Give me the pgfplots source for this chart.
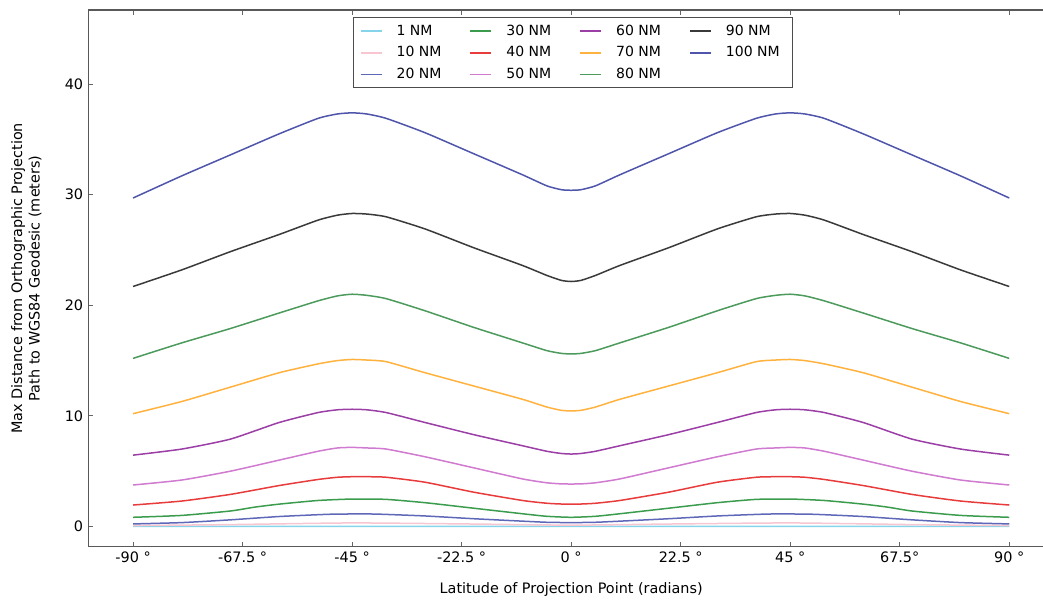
\documentclass[border=0pt]{standalone}
\usepackage{fontspec}
\setmainfont{DejaVu Sans}
\usepackage{pgfplots}
\pgfplotsset{compat=1.18}
\definecolor{c1}{HTML}{86D4EA}
\definecolor{c10}{HTML}{F7C6D0}
\definecolor{c20}{HTML}{5F68B8}
\definecolor{c30}{HTML}{3C9C4E}
\definecolor{c40}{HTML}{E83C3C}
\definecolor{c50}{HTML}{D07AD0}
\definecolor{c60}{HTML}{9B3EA6}
\definecolor{c70}{HTML}{FFB23E}
\definecolor{c80}{HTML}{4C9A5C}
\definecolor{c90}{HTML}{3A3A3A}
\definecolor{c100}{HTML}{4F55AA}
\newcommand{\legbox}[1]{\makebox[28pt][l]{#1}}
\begin{document}
\fontsize{7.2}{8.7}\selectfont
\begin{tikzpicture}
\begin{axis}[
  scale only axis,
  width=482.85pt, height=268.35pt,
  xmin=-99.2, xmax=99.2, ymin=-1.83, ymax=46.7,
  xtick={-90,-67.5,-45,-22.5,0,22.5,45,67.5,90},
  xticklabels={-90 °,-67.5 °,-45 °,-22.5 °,0 °,22.5 °,45 °,67.5°,90 °},
  ytick={0,10,20,30,40},
  yticklabels={0,10,20,30,40},
  tick align=inside,
  major tick length=2.5pt,
  tick style={black!60, line width=0.5pt},
  axis line style={black!65, line width=0.7pt},
  xlabel={Latitude of Projection Point (radians)},
  ylabel={Max Distance from Orthographic Projection\\Path to WGS84 Geodesic (meters)},
  xlabel style={at={(axis description cs:0.5,0)}, anchor=center, yshift=-21.65pt},
  ylabel style={at={(axis description cs:-0.0642,0.5)}, anchor=center, align=center},
  tick label style={font=\fontsize{7.2}{8.7}\selectfont},
  label style={font=\fontsize{7.2}{8.7}\selectfont},
  legend columns=4,
  legend cell align=left,
  legend style={at={(rel axis cs:0.2744,0.9864)}, anchor=north west,
    draw=black!70, line width=0.5pt, font=\fontsize{7}{8}\selectfont,
    inner xsep=3pt, inner ysep=1.5pt, row sep=0.6pt,
    /tikz/every odd column/.append style={column sep=5pt},
    /tikz/every even column/.append style={column sep=6.5pt}},
  legend image code/.code={\draw[#1, line width=0.9pt] (0pt,0pt) -- (10.5pt,0pt);},
  every axis plot/.append style={line width=0.75pt, smooth, tension=0.35},
]
% row 1 of legend: 1, 30, 60, 90
\addplot[c1] coordinates {(-90,0.003) (-45,0.008) (0,0.003) (45,0.008) (90,0.003)};
\addlegendentry{\legbox{1 NM}}
\addplot[c30] coordinates {(-90,0.83) (-80,1.0) (-70,1.4) (-65,1.75) (-60,2.02) (-52,2.35) (-45,2.48) (-38,2.45) (-30,2.15) (-20,1.65) (-10,1.15) (-5,0.92) (0,0.83)
 (5,0.92) (10,1.15) (20,1.65) (30,2.15) (38,2.45) (45,2.48) (52,2.35) (60,2.02) (65,1.75) (70,1.4) (80,1.0) (90,0.83)};
\addlegendentry{\legbox{30 NM}}
\addplot[c60] coordinates {(-90,6.45) (-80,7.0) (-70,7.9) (-60,9.4) (-52,10.3) (-48,10.55) (-45,10.6) (-42,10.55) (-38,10.3) (-30,9.4) (-20,8.3) (-10,7.3) (-5,6.8) (-2,6.6) (0,6.55)
 (2,6.6) (5,6.8) (10,7.3) (20,8.3) (30,9.4) (38,10.3) (42,10.55) (45,10.6) (48,10.55) (52,10.3) (60,9.4) (70,7.9) (80,7.0) (90,6.45)};
\addlegendentry{\legbox{60 NM}}
\addplot[c90] coordinates {(-90,21.7) (-80,23.2) (-70,24.85) (-60,26.4) (-52,27.7) (-48,28.15) (-45,28.3) (-42,28.25) (-38,28.0) (-30,26.9) (-20,25.2) (-10,23.6) (-5,22.7) (-2,22.25) (0,22.15)
 (2,22.25) (5,22.7) (10,23.6) (20,25.2) (30,26.9) (38,28.0) (42,28.25) (45,28.3) (48,28.15) (52,27.7) (60,26.4) (70,24.85) (80,23.2) (90,21.7)};
\addlegendentry{\legbox{90 NM}}
% row 2: 10, 40, 70, 100
\addplot[c10] coordinates {(-90,0.08) (-70,0.17) (-45,0.32) (-20,0.22) (0,0.12) (20,0.22) (45,0.32) (70,0.17) (90,0.08)};
\addlegendentry{\legbox{10 NM}}
\addplot[c40] coordinates {(-90,1.94) (-80,2.3) (-70,2.9) (-60,3.7) (-52,4.25) (-48,4.45) (-45,4.5) (-42,4.5) (-38,4.45) (-30,4.0) (-20,3.1) (-10,2.35) (-5,2.1) (-2,2.03) (0,2.03)
 (2,2.03) (5,2.1) (10,2.35) (20,3.1) (30,4.0) (38,4.45) (42,4.5) (45,4.5) (48,4.45) (52,4.25) (60,3.7) (70,2.9) (80,2.3) (90,1.94)};
\addlegendentry{\legbox{40 NM}}
\addplot[c70] coordinates {(-90,10.2) (-80,11.3) (-70,12.6) (-60,13.9) (-52,14.7) (-48,15.0) (-45,15.1) (-42,15.05) (-38,14.9) (-30,13.9) (-20,12.7) (-10,11.5) (-5,10.8) (-2,10.5) (0,10.45)
 (2,10.5) (5,10.8) (10,11.5) (20,12.7) (30,13.9) (38,14.9) (42,15.05) (45,15.1) (48,15.0) (52,14.7) (60,13.9) (70,12.6) (80,11.3) (90,10.2)};
\addlegendentry{\legbox{70 NM}}
\addplot[c100] coordinates {(-90,29.7) (-80,31.7) (-70,33.6) (-60,35.5) (-52,36.9) (-48,37.3) (-45,37.4) (-42,37.3) (-38,36.9) (-30,35.6) (-20,33.7) (-10,31.8) (-5,30.8) (-2,30.45) (0,30.4)
 (2,30.45) (5,30.8) (10,31.8) (20,33.7) (30,35.6) (38,36.9) (42,37.3) (45,37.4) (48,37.3) (52,36.9) (60,35.5) (70,33.6) (80,31.7) (90,29.7)};
\addlegendentry{\makebox[26pt][l]{100 NM}}
% row 3: 20, 50, 80
\addplot[c20] coordinates {(-90,0.23) (-80,0.35) (-70,0.6) (-60,0.9) (-50,1.1) (-45,1.13) (-40,1.12) (-30,0.95) (-20,0.7) (-10,0.48) (-5,0.38) (0,0.35)
 (5,0.38) (10,0.48) (20,0.7) (30,0.95) (40,1.12) (45,1.13) (50,1.1) (60,0.9) (70,0.6) (80,0.35) (90,0.23)};
\addlegendentry{\legbox{20 NM}}
\addplot[c50] coordinates {(-90,3.75) (-80,4.2) (-70,5.0) (-60,6.0) (-52,6.8) (-48,7.1) (-45,7.15) (-42,7.1) (-38,7.0) (-30,6.3) (-20,5.3) (-10,4.3) (-5,3.95) (-2,3.85) (0,3.84)
 (2,3.85) (5,3.95) (10,4.3) (20,5.3) (30,6.3) (38,7.0) (42,7.1) (45,7.15) (48,7.1) (52,6.8) (60,6.0) (70,5.0) (80,4.2) (90,3.75)};
\addlegendentry{\legbox{50 NM}}
\addplot[c80] coordinates {(-90,15.2) (-80,16.6) (-70,17.9) (-60,19.3) (-52,20.4) (-48,20.85) (-45,21.0) (-42,20.9) (-38,20.6) (-30,19.5) (-20,18.0) (-10,16.6) (-5,15.9) (-2,15.65) (0,15.6)
 (2,15.65) (5,15.9) (10,16.6) (20,18.0) (30,19.5) (38,20.6) (42,20.9) (45,21.0) (48,20.85) (52,20.4) (60,19.3) (70,17.9) (80,16.6) (90,15.2)};
\addlegendentry{\legbox{80 NM}}
\end{axis}
\pgfresetboundingbox
\path (current axis.south west) ++(-44.15pt,-27.65pt) rectangle ++(521.5pt,301pt);
\end{tikzpicture}
\end{document}
